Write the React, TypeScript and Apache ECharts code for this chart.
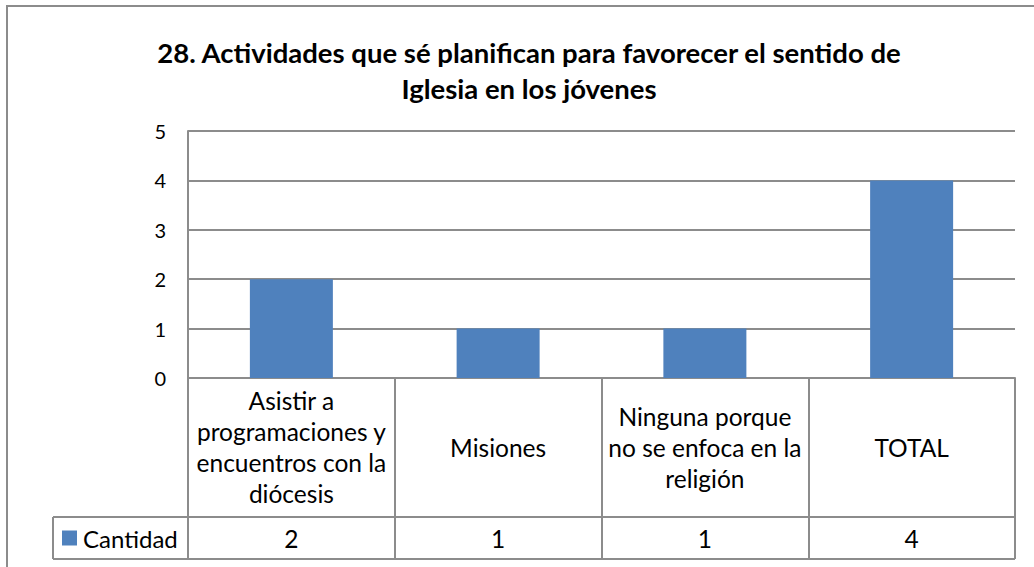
import React, { useEffect, useRef } from "react";
import * as echarts from "echarts";

const TITLE = "28. Actividades que sé planifican para favorecer el sentido de\nIglesia en los jóvenes";
const SERIES_NAME = "Cantidad";
const categories = [
  "Asistir a\nprogramaciones y\nencuentros con la\ndiócesis",
  "Misiones",
  "Ninguna porque\nno se enfoca en la\nreligión",
  "TOTAL",
];
const values = [2, 1, 1, 4];
const Y_MIN = 0;
const Y_MAX = 5;
const Y_INTERVAL = 1;

const FONT = "Lato";
const GRAY = "#8c8c8c";
const BLUE = "#4f81bd";

export default function App() {
  const ref = useRef<HTMLDivElement>(null);
  useEffect(() => {
    if (!ref.current) return;
    const chart = echarts.init(ref.current, null, { renderer: "svg" });
    chart.setOption({
      animation: false,
      backgroundColor: "#ffffff",
      title: {
        text: TITLE,
        left: 524,
        top: 29,
        textAlign: "center",
        textStyle: {
          fontFamily: FONT,
          fontWeight: "bold",
          fontSize: 27.5,
          lineHeight: 36,
          color: "#000",
        },
      },
      legend: {
        left: 62,
        top: 526,
        padding: 0,
        icon: "rect",
        itemWidth: 15,
        itemHeight: 15,
        itemGap: 6,
        textStyle: { fontFamily: FONT, fontSize: 24, lineHeight: 24, color: "#000", padding: [0, 0, 0, 1] },
        data: [SERIES_NAME],
      },
      grid: { left: 188, right: 1034 - 1015, top: 131, bottom: 567 - 378, containLabel: false },
      xAxis: [
        {
          type: "category",
          data: categories,
          position: "bottom",
          axisLine: { show: true, lineStyle: { color: GRAY, width: 2 } },
          axisTick: { show: true, length: 181, interval: 0, lineStyle: { color: GRAY, width: 2 } },
          axisLabel: {
            interval: 0,
            margin: 69,
            verticalAlign: "middle",
            fontFamily: FONT,
            fontSize: 24.5,
            lineHeight: 31,
            color: "#000",
          },
        },
        {
          type: "category",
          data: categories,
          position: "bottom",
          axisLine: { show: false },
          axisTick: { show: false },
          axisLabel: {
            interval: 0,
            margin: 160,
            verticalAlign: "middle",
            fontFamily: FONT,
            fontSize: 24.5,
            color: "#000",
            formatter: (_v: string, i: number) => String(values[i]),
          },
        },
      ],
      yAxis: {
        type: "value",
        min: Y_MIN,
        max: Y_MAX,
        interval: Y_INTERVAL,
        axisLine: { show: true, lineStyle: { color: GRAY, width: 2 } },
        axisTick: { show: false },
        splitLine: { show: true, lineStyle: { color: GRAY, width: 2 } },
        axisLabel: { margin: 22, fontFamily: FONT, fontSize: 20, color: "#000" },
      },
      series: [
        {
          name: SERIES_NAME,
          type: "bar",
          data: values,
          barWidth: 83,
          itemStyle: { color: BLUE },
        },
      ],
      graphic: [
        {
          type: "rect",
          shape: { x: 7, y: 6, width: 1100, height: 700 },
          style: { fill: "none", stroke: GRAY, lineWidth: 2 },
          silent: true,
        },
        {
          type: "line",
          shape: { x1: 53, y1: 517, x2: 1015, y2: 517 },
          style: { stroke: GRAY, lineWidth: 2 },
        },
        {
          type: "line",
          shape: { x1: 53, y1: 559, x2: 1015, y2: 559 },
          style: { stroke: GRAY, lineWidth: 2 },
        },
        {
          type: "line",
          shape: { x1: 53, y1: 517, x2: 53, y2: 559 },
          style: { stroke: GRAY, lineWidth: 2 },
        },
      ],
    });
    return () => chart.dispose();
  }, []);
  return <div ref={ref} style={{ width: 1034, height: 567, position: "absolute", left: 0, top: 0 }} />;
}
